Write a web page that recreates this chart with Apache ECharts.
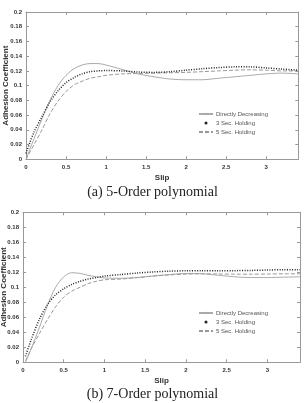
<!DOCTYPE html>
<html><head><meta charset="utf-8">
<script src="https://cdn.jsdelivr.net/npm/echarts@6/dist/echarts.min.js"></script>
<style>html,body{margin:0;padding:0;background:#fff}#c{width:305px;height:403px}</style>
</head><body><div id="c"></div>
<script>
// ---- data (a) 5-Order polynomial ----
const slipA = [0, 0.1, 0.2, 0.3, 0.4, 0.5, 0.6, 0.7, 0.8, 0.9, 1.0, 1.2, 1.4, 1.6, 1.8, 2.0, 2.2, 2.4, 2.6, 2.8, 3.0, 3.2, 3.4];
const directA = [0, 0.028, 0.055, 0.080, 0.100, 0.114, 0.123, 0.128, 0.130, 0.130, 0.128, 0.122, 0.116, 0.112, 0.109, 0.108, 0.108, 0.110, 0.112, 0.114, 0.116, 0.117, 0.116];
const hold3A = [0.008, 0.037, 0.058, 0.078, 0.093, 0.104, 0.111, 0.116, 0.119, 0.120, 0.1205, 0.120, 0.1185, 0.118, 0.119, 0.121, 0.123, 0.1245, 0.1255, 0.1255, 0.124, 0.1225, 0.121];
const hold5A = [0, 0.020, 0.040, 0.062, 0.079, 0.092, 0.101, 0.106, 0.110, 0.112, 0.114, 0.116, 0.1165, 0.117, 0.1175, 0.118, 0.119, 0.120, 0.121, 0.1215, 0.121, 0.120, 0.120];
// ---- data (b) 7-Order polynomial ----
const slipB = [0.03, 0.1, 0.2, 0.3, 0.4, 0.5, 0.6, 0.7, 0.8, 0.9, 1.0, 1.2, 1.4, 1.6, 1.8, 2.0, 2.2, 2.4, 2.6, 2.8, 3.0, 3.2, 3.4];
const directB = [0, 0.018, 0.046, 0.076, 0.100, 0.114, 0.1195, 0.1185, 0.116, 0.114, 0.1125, 0.112, 0.113, 0.115, 0.117, 0.1185, 0.118, 0.116, 0.114, 0.113, 0.113, 0.1135, 0.114];
const hold3B = [0.008, 0.030, 0.057, 0.077, 0.090, 0.098, 0.104, 0.108, 0.111, 0.113, 0.115, 0.117, 0.119, 0.1205, 0.1215, 0.122, 0.122, 0.122, 0.1222, 0.1225, 0.123, 0.1235, 0.1235];
const hold5B = [0.002, 0.018, 0.038, 0.057, 0.074, 0.087, 0.095, 0.100, 0.105, 0.108, 0.110, 0.111, 0.113, 0.115, 0.1165, 0.1175, 0.118, 0.1178, 0.1175, 0.1175, 0.1177, 0.118, 0.118];
const seriesNames = ['Directly Decreasing', '3 Sec. Holding', '5 Sec. Holding'];
const captions = ['(a) 5-Order polynomial', '(b) 7-Order polynomial'];
const yTicks = [0, 0.2, 0.02];

const pair = (xs, ys) => xs.map((x, i) => [x, ys[i]]);
const grids = [
  {left: 26, top: 12, width: 272.3, height: 147.3},
  {left: 23, top: 212.3, width: 277, height: 150}
];
const xMax = [3.4, 3.4];
const yNameGap = [16.5, 15];
const sans = 'Liberation Sans, Arial, sans-serif';
const lab = {fontSize: 6, fontWeight: 'bold', color: '#333', fontFamily: sans};
const lineC = '#999';
const nameStyle = {fontSize: 8, fontWeight: 'bold', color: '#333', fontFamily: sans};
const xAxis = [], yAxis = [];
grids.forEach((g, i) => {
  xAxis.push({type: 'value', gridIndex: i, min: 0, max: xMax[i], interval: 0.5, position: 'bottom',
    name: 'Slip', nameLocation: 'middle', nameGap: 14, nameMoveOverlap: false, nameTextStyle: nameStyle,
    axisLine: {show: true, onZero: false, lineStyle: {color: lineC}}, axisTick: {inside: true, length: 3, lineStyle: {color: lineC}},
    axisLabel: {...lab, margin: 5, showMaxLabel: false}, splitLine: {show: false}});
  xAxis.push({type: 'value', gridIndex: i, min: 0, max: xMax[i], interval: 0.5, position: 'top',
    axisLine: {show: true, onZero: false, lineStyle: {color: lineC}}, axisTick: {inside: true, length: 3, lineStyle: {color: lineC}},
    axisLabel: {show: false}, splitLine: {show: false}});
  yAxis.push({type: 'value', gridIndex: i, min: yTicks[0], max: yTicks[1], interval: yTicks[2], position: 'left',
    name: 'Adhesion Coefficient', nameLocation: 'middle', nameGap: yNameGap[i], nameMoveOverlap: false, nameTextStyle: nameStyle,
    axisLine: {show: true, onZero: false, lineStyle: {color: lineC}}, axisTick: {inside: true, length: 3, lineStyle: {color: lineC}},
    axisLabel: {...lab, margin: 4}, splitLine: {show: false}});
  yAxis.push({type: 'value', gridIndex: i, min: yTicks[0], max: yTicks[1], interval: yTicks[2], position: 'right',
    axisLine: {show: true, onZero: false, lineStyle: {color: lineC}}, axisTick: {inside: true, length: 3, lineStyle: {color: lineC}},
    axisLabel: {show: false}, splitLine: {show: false}});
});
const styles = [
  {color: '#aaa', width: 1, type: 'solid'},
  {color: '#222', width: 1.5, type: [1, 1.5]},
  {color: '#999', width: 1, type: [4, 2]}
];
const sets = [[directA, hold3A, hold5A], [directB, hold3B, hold5B]];
const slips = [slipA, slipB];
const series = [];
sets.forEach((s, gi) => {
  s.forEach((ys, k) => {
    series.push({type: 'line', name: seriesNames[k], xAxisIndex: gi * 2, yAxisIndex: gi * 2,
      data: pair(slips[gi], ys), smooth: 0.3, symbol: 'none', clip: true,
      lineStyle: styles[k], itemStyle: {color: styles[k].color}, z: k === 1 ? 3 : 2});
  });
});
const legTop = [106, 305];
const legend = legTop.map(t => ({
  left: 193, top: t, orient: 'vertical', itemWidth: 14, itemHeight: 3, itemGap: 3,
  textStyle: {fontSize: 6, color: '#555', fontFamily: sans, padding: [0, 0, 0, -2]},
  data: [
    {name: seriesNames[0]},
    {name: seriesNames[1], icon: 'circle', itemStyle: {color: '#222'}},
    {name: seriesNames[2]}
  ]
}));
const chart = echarts.init(document.getElementById('c'), null, {renderer: 'canvas'});
chart.setOption({
  animation: false,
  backgroundColor: '#fff',
  title: captions.map((c, i) => ({text: c, left: 'center', top: i === 0 ? 185 : 387, padding: 0,
    textStyle: {fontSize: 14, fontWeight: 'normal', color: '#222', fontFamily: 'Liberation Serif, Times New Roman, serif'}})),
  grid: grids.map(g => ({...g, show: false, containLabel: false, outerBoundsMode: 'none'})),
  xAxis, yAxis, series, legend
});
</script></body></html>
